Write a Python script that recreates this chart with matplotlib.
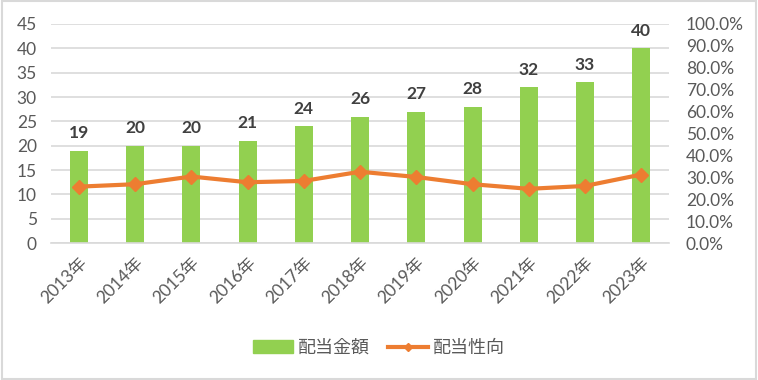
import numpy as np
import matplotlib.pyplot as plt
from matplotlib.lines import Line2D
from matplotlib.patches import Patch

plt.rcParams['font.family'] = ['Lato', 'Noto Sans CJK JP', 'DejaVu Sans']

years = ['2013年', '2014年', '2015年', '2016年', '2017年', '2018年',
         '2019年', '2020年', '2021年', '2022年', '2023年']
dividends = [19, 20, 20, 21, 24, 26, 27, 28, 32, 33, 40]
payout_ratio = [25.8, 26.9, 30.4, 27.8, 28.4, 32.6, 30.2, 26.9, 24.8, 26.1, 31.3]

green = '#92D050'
orange = '#ED7D31'
grid_c = '#D9D9D9'
tick_c = '#595959'

fig = plt.figure(figsize=(7.58, 3.8), dpi=100)
ax = fig.add_axes([0.067, 0.36, 0.816, 0.577])
x = np.arange(len(years))

# Bars on the left axis
ax.bar(x, dividends, width=0.32, color=green, zorder=2)
for xi, v in zip(x, dividends):
    ax.annotate(str(v), (xi, v), xytext=(0, 7), textcoords='offset points',
                ha='center', va='bottom', fontsize=12.5, fontweight='bold',
                color='#404040')

ax.set_xlim(-0.5, len(years) - 0.5)
ax.set_ylim(0, 45)
ax.set_yticks(range(0, 46, 5))
ax.yaxis.grid(True, color=grid_c, linewidth=1.2, zorder=0)
ax.set_axisbelow(True)
for s in ['top', 'right', 'left']:
    ax.spines[s].set_visible(False)
ax.spines['bottom'].set_color(grid_c)
ax.spines['bottom'].set_linewidth(1.2)
ax.tick_params(axis='both', length=0, colors=tick_c, labelsize=12.5)
ax.set_xticks(x)
ax.set_xticklabels(years, rotation=45, ha='right', rotation_mode='anchor')
ax.tick_params(axis='x', pad=8)
ax.tick_params(axis='y', pad=10)

# Payout ratio on the right axis
ax2 = ax.twinx()
ax2.plot(x, payout_ratio, color=orange, linewidth=3, marker='D',
         markersize=7, zorder=3)
ax2.set_ylim(0, 100)
ax2.set_yticks(range(0, 101, 10))
ax2.set_yticklabels(['%.1f%%' % t for t in range(0, 101, 10)])
for s in ['top', 'right', 'left', 'bottom']:
    ax2.spines[s].set_visible(False)
ax2.tick_params(axis='y', length=0, colors=tick_c, labelsize=12.5, pad=12)

handles = [Patch(color=green, label='配当金額'),
           Line2D([0], [0], color=orange, linewidth=3, marker='D',
                  markersize=4, label='配当性向')]
leg = fig.legend(handles=handles, loc='center', bbox_to_anchor=(0.5, 0.085),
                 ncol=2, frameon=False, fontsize=13, handlelength=2.2,
                 columnspacing=1.0, handletextpad=0.3)
for t in leg.get_texts():
    t.set_color(tick_c)

fig.patches.append(plt.Rectangle((0.002, 0.003), 0.996, 0.994,
                                 transform=fig.transFigure, fill=False,
                                 edgecolor=grid_c, linewidth=1.5))

fig.savefig('out.png', dpi=100)
